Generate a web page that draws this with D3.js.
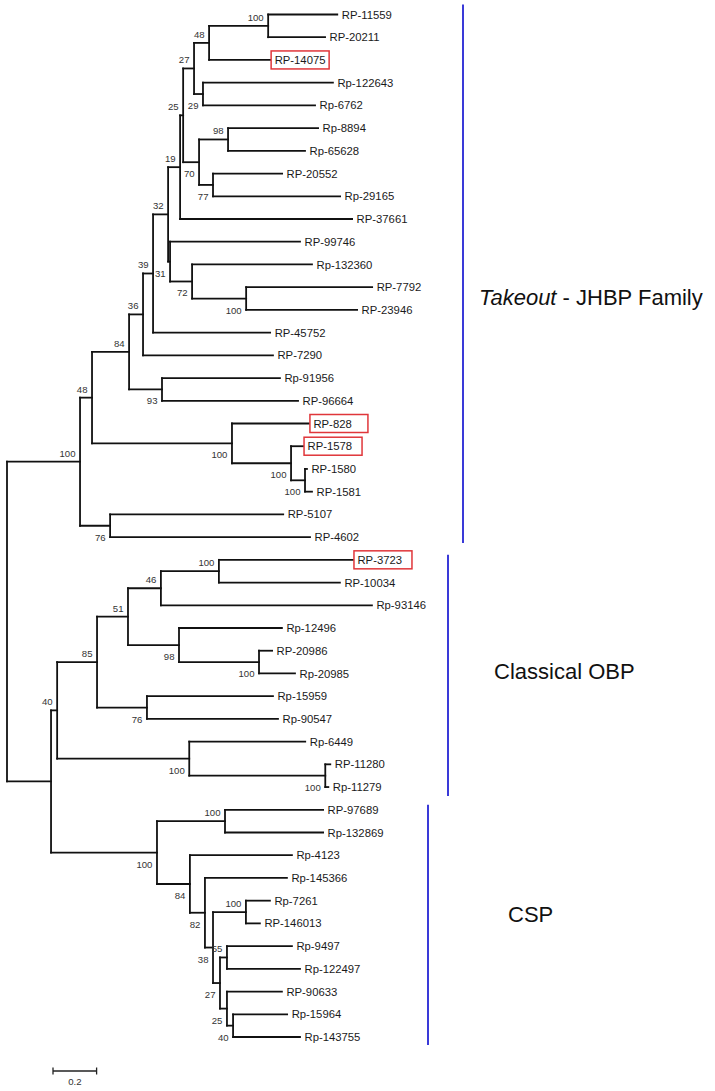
<!DOCTYPE html>
<html>
<head>
<meta charset="utf-8">
<script src="https://cdn.jsdelivr.net/npm/d3@7"></script>
<style>
  html, body { margin: 0; padding: 0; background: #fff; }
  svg { display: block; font-family: "Liberation Sans", Arial, sans-serif; }
</style>
</head>
<body>
<svg id="chart" width="715" height="1091"></svg>
<script>
// ---- DATA ----
// Tree edges: [node, parent, branch length (substitutions/site), bootstrap support]
const treeEdges = [
  ["root", "", 0, null],
  ["T100", "root", 0.335, 100],
  ["T48", "T100", 0.055, 48],
  ["T84", "T48", 0.170, 84],
  ["T36", "T84", 0.064, 36],
  ["T39", "T36", 0.046, 39],
  ["T32", "T39", 0.069, 32],
  ["T19", "T32", 0.055, 19],
  ["T25", "T19", 0.014, 25],
  ["T27", "T25", 0.050, 27],
  ["T48b", "T27", 0.069, 48],
  ["T100a", "T48b", 0.271, 100],
  ["RP-11559", "T100a", 0.317, null],
  ["RP-20211", "T100a", 0.261, null],
  ["RP-14075", "T48b", 0.280, null],
  ["T29", "T27", 0.041, 29],
  ["Rp-122643", "T29", 0.596, null],
  ["Rp-6762", "T29", 0.514, null],
  ["T70", "T25", 0.073, 70],
  ["T98", "T70", 0.133, 98],
  ["Rp-8894", "T98", 0.413, null],
  ["Rp-65628", "T98", 0.353, null],
  ["T77", "T70", 0.064, 77],
  ["RP-20552", "T77", 0.317, null],
  ["Rp-29165", "T77", 0.583, null],
  ["RP-37661", "T19", 0.789, null],
  ["T31", "T32", 0.009, 31],
  ["RP-99746", "T31", 0.596, null],
  ["T72", "T31", 0.101, 72],
  ["Rp-132360", "T72", 0.550, null],
  ["T100b", "T72", 0.248, 100],
  ["RP-7792", "T100b", 0.578, null],
  ["RP-23946", "T100b", 0.509, null],
  ["RP-45752", "T39", 0.537, null],
  ["RP-7290", "T36", 0.596, null],
  ["T93", "T84", 0.151, 93],
  ["Rp-91956", "T93", 0.541, null],
  ["RP-96664", "T93", 0.624, null],
  ["T100c", "T48", 0.642, 100],
  ["RP-828", "T100c", 0.353, null],
  ["T100d", "T100c", 0.271, 100],
  ["RP-1578", "T100d", 0.055, null],
  ["T100e", "T100d", 0.064, 100],
  ["RP-1580", "T100e", 0.009, null],
  ["RP-1581", "T100e", 0.032, null],
  ["T76", "T100", 0.138, 76],
  ["RP-5107", "T76", 0.794, null],
  ["RP-4602", "T76", 0.917, null],
  ["X", "root", 0.202, null],
  ["O40", "X", 0.028, 40],
  ["O85", "O40", 0.183, 85],
  ["O51", "O85", 0.142, 51],
  ["O46", "O51", 0.151, 46],
  ["O100a", "O46", 0.266, 100],
  ["RP-3723", "O100a", 0.615, null],
  ["RP-10034", "O100a", 0.555, null],
  ["Rp-93146", "O46", 0.968, null],
  ["O98", "O51", 0.234, 98],
  ["Rp-12496", "O98", 0.472, null],
  ["O100b", "O98", 0.367, 100],
  ["RP-20986", "O100b", 0.060, null],
  ["Rp-20985", "O100b", 0.165, null],
  ["O76", "O85", 0.229, 76],
  ["Rp-15959", "O76", 0.578, null],
  ["Rp-90547", "O76", 0.601, null],
  ["O100c", "O40", 0.606, 100],
  ["Rp-6449", "O100c", 0.532, null],
  ["O100d", "O100c", 0.624, 100],
  ["RP-11280", "O100d", 0.023, null],
  ["Rp-11279", "O100d", 0.014, null],
  ["C100", "X", 0.486, 100],
  ["C100a", "C100", 0.312, 100],
  ["RP-97689", "C100a", 0.450, null],
  ["Rp-132869", "C100a", 0.450, null],
  ["C84", "C100", 0.151, 84],
  ["Rp-4123", "C84", 0.468, null],
  ["C82", "C84", 0.069, 82],
  ["Rp-145366", "C82", 0.376, null],
  ["C38", "C82", 0.037, 38],
  ["C100b", "C38", 0.151, 100],
  ["Rp-7261", "C100b", 0.110, null],
  ["RP-146013", "C100b", 0.064, null],
  ["C27", "C38", 0.032, 27],
  ["C55", "C27", 0.032, 55],
  ["Rp-9497", "C55", 0.298, null],
  ["Rp-122497", "C55", 0.335, null],
  ["C25", "C27", 0.032, 25],
  ["RP-90633", "C25", 0.252, null],
  ["C40", "C25", 0.028, 40],
  ["Rp-15964", "C40", 0.248, null],
  ["Rp-143755", "C40", 0.307, null]
];

const boxedLeaves = ["RP-14075", "RP-828", "RP-1578", "RP-3723"];

const cladeNames = ["Takeout", "Classical OBP", "CSP"];
const cladeFirstLeaf = ["RP-11559", "RP-3723", "RP-97689"];
const cladeLastLeaf = ["RP-4602", "Rp-11279", "Rp-143755"];

const scaleBarValue = 0.2;

// ---- LAYOUT / STYLE ----
const svg = d3.select("#chart");
const branchColor = "#111";
const labelColor = "#1a1a1a";
const supportColor = "#333";

const root = d3.stratify()
  .id(d => d[0])
  .parentId(d => d[1] === "" ? null : d[1])(treeEdges);

// cumulative distance from root
root.eachBefore(n => {
  n.dist = n.parent ? n.parent.dist + n.data[2] : 0;
});

const leaves = root.leaves();
const x = d3.scaleLinear().domain([0, 1]).range([7, 225]);
const y = d3.scalePoint().domain(leaves.map(d => d.id)).range([14.5, 1037]);

// assign y: leaves from scale, internal nodes = midpoint of first and last child
root.eachAfter(n => {
  if (!n.children) n.yPos = y(n.id);
  else n.yPos = (n.children[0].yPos + n.children[n.children.length - 1].yPos) / 2;
});

const g = svg.append("g");

// branches: horizontal from parent x to node x at node y
g.selectAll("line.h")
  .data(root.descendants().filter(d => d.parent))
  .join("line")
  .attr("x1", d => x(d.parent.dist))
  .attr("x2", d => x(d.dist))
  .attr("y1", d => d.yPos)
  .attr("y2", d => d.yPos)
  .attr("stroke", branchColor)
  .attr("stroke-width", 1.8)
  .attr("stroke-linecap", "square");

// vertical connectors
g.selectAll("line.v")
  .data(root.descendants().filter(d => d.children))
  .join("line")
  .attr("x1", d => x(d.dist))
  .attr("x2", d => x(d.dist))
  .attr("y1", d => d.children[0].yPos)
  .attr("y2", d => d.children[d.children.length - 1].yPos)
  .attr("stroke", branchColor)
  .attr("stroke-width", 1.8)
  .attr("stroke-linecap", "square");

// leaf labels
g.selectAll("text.leaf")
  .data(leaves)
  .join("text")
  .attr("x", d => x(d.dist) + 4.5)
  .attr("y", d => d.yPos)
  .attr("dy", "0.36em")
  .attr("font-size", 11.3)
  .attr("fill", labelColor)
  .text(d => d.id);

// red boxes around highlighted leaves
g.selectAll("rect.box")
  .data(leaves.filter(d => boxedLeaves.includes(d.id)))
  .join("rect")
  .attr("x", d => x(d.dist) + 1)
  .attr("y", d => d.yPos - 9)
  .attr("width", 58)
  .attr("height", 18)
  .attr("fill", "none")
  .attr("stroke", "#e0363a")
  .attr("stroke-width", 1.5);

// bootstrap supports: above if node is upper child, below otherwise
g.selectAll("text.support")
  .data(root.descendants().filter(d => d.children && d.data[3] != null))
  .join("text")
  .attr("x", d => x(d.dist) - 4.5)
  .attr("y", d => {
    const upper = d.parent && d.parent.children[0] === d;
    return upper ? d.yPos - 5 : d.yPos + 15;
  })
  .attr("text-anchor", "end")
  .attr("font-size", 9.6)
  .attr("fill", supportColor)
  .text(d => d.data[3]);

// clade bars and labels
const cladeBarX = [463, 448, 428];
const cladeBarPad = [[10, 6], [5, 9], [5, 8]];
const cladeLabelX = [479, 494, 508];
const cladeLabelY = [305, 679, 922];

cladeNames.forEach((name, i) => {
  g.append("line")
    .attr("x1", cladeBarX[i]).attr("x2", cladeBarX[i])
    .attr("y1", y(cladeFirstLeaf[i]) - cladeBarPad[i][0])
    .attr("y2", y(cladeLastLeaf[i]) + cladeBarPad[i][1])
    .attr("stroke", "#3a3ad8")
    .attr("stroke-width", 2);
  const t = g.append("text")
    .attr("x", cladeLabelX[i])
    .attr("y", cladeLabelY[i])
    .attr("font-size", 22)
    .attr("fill", "#111");
  if (name === "Takeout") {
    t.append("tspan").attr("font-style", "italic").text("Takeout");
    t.append("tspan").text(" - JHBP Family");
  } else {
    t.text(name);
  }
});

// scale bar
const sx0 = 53;
const sx1 = sx0 + (x(scaleBarValue) - x(0));
const sy = 1071;
const sb = g.append("g").attr("stroke", "#222").attr("stroke-width", 1.3);
sb.append("line").attr("x1", sx0).attr("x2", sx1).attr("y1", sy).attr("y2", sy);
sb.append("line").attr("x1", sx0).attr("x2", sx0).attr("y1", sy - 3.5).attr("y2", sy + 3.5);
sb.append("line").attr("x1", sx1).attr("x2", sx1).attr("y1", sy - 3.5).attr("y2", sy + 3.5);
g.append("text")
  .attr("x", (sx0 + sx1) / 2)
  .attr("y", sy + 14)
  .attr("text-anchor", "middle")
  .attr("font-size", 9.6)
  .attr("fill", supportColor)
  .text(scaleBarValue);
</script>
</body>
</html>
